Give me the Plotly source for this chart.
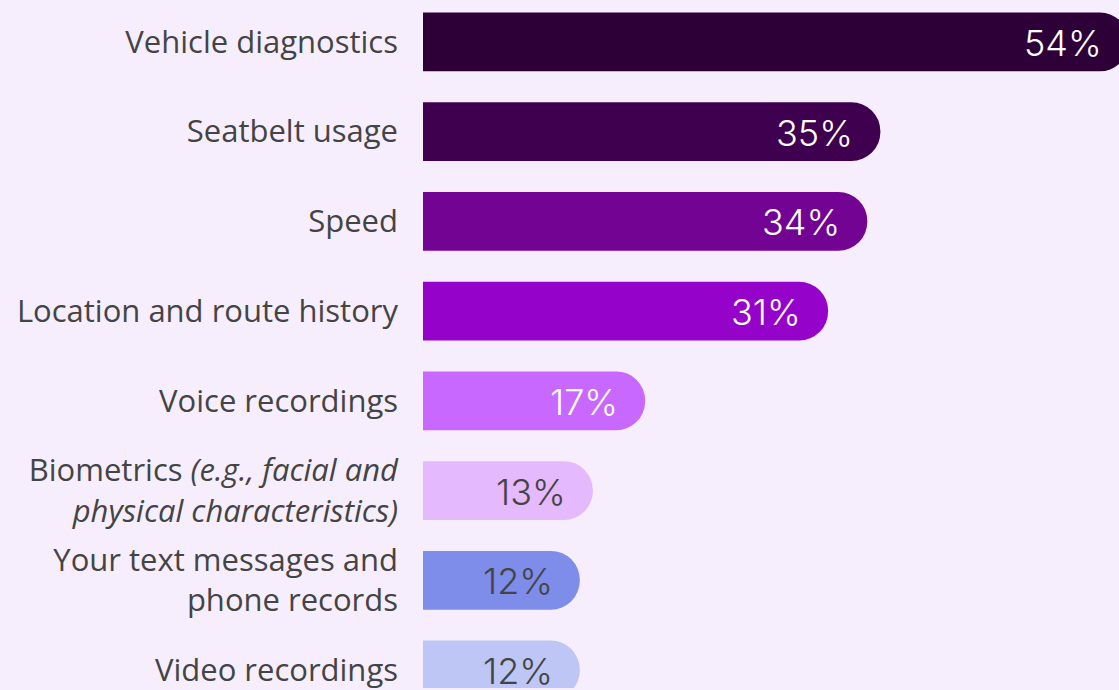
import plotly.graph_objects as go

categories = [
    "Vehicle diagnostics",
    "Seatbelt usage",
    "Speed",
    "Location and route history",
    "Voice recordings",
    "Biometrics <i>(e.g., facial and</i><br><i>physical characteristics)</i>",
    "Your text messages and<br>phone records",
    "Video recordings",
]
values = [54, 35, 34, 31, 17, 13, 12, 12]
bar_colors = ["#2D0038", "#3F0050", "#720393", "#9503CB", "#C968FE", "#E5B9FD", "#7E8CEA", "#BEC6F5"]
text_colors = ["#FFFFFF", "#FFFFFF", "#FFFFFF", "#FFFFFF", "#FFFFFF", "#444444", "#444444", "#444444"]
value_labels = [f"{v}%" for v in values]

idx = list(range(len(categories)))

fig = go.Figure()
fig.add_trace(go.Bar(
    x=values,
    y=idx,
    orientation="h",
    marker=dict(color=bar_colors, line=dict(width=0), cornerradius=29),
    width=0.656,
    hoverinfo="skip",
))

for i, (v, t, c) in enumerate(zip(values, value_labels, text_colors)):
    fig.add_annotation(
        x=v, y=i, xref="x", yref="y", text=t, showarrow=False,
        xanchor="right", yanchor="middle", xshift=-25, yshift=-1,
        font=dict(family="Inter, sans-serif", size=36, weight=300, color=c),
    )

# the original chart is cropped on the right: the plot area runs past the window edge
fig.update_layout(
    width=1130, height=690,
    margin=dict(l=423, r=0, t=0, b=0),
    paper_bgcolor="#F7EEFD",
    plot_bgcolor="#F7EEFD",
    showlegend=False,
)
fig.update_xaxes(range=[0, 54.1], visible=False, fixedrange=True)
fig.update_yaxes(
    range=[7.2, -0.467],
    tickmode="array", tickvals=idx, ticktext=categories,
    ticks="", showgrid=False, zeroline=False, showline=False,
    ticklabelstandoff=24, ticklabeloverflow="allow",
    tickfont=dict(family="Open Sans, sans-serif", size=31, color="#444444"),
)

fig.write_html(
    "out.html",
    config={"displayModeBar": False},
    post_script="document.body.style.margin='0';document.body.style.overflow='hidden';",
)
